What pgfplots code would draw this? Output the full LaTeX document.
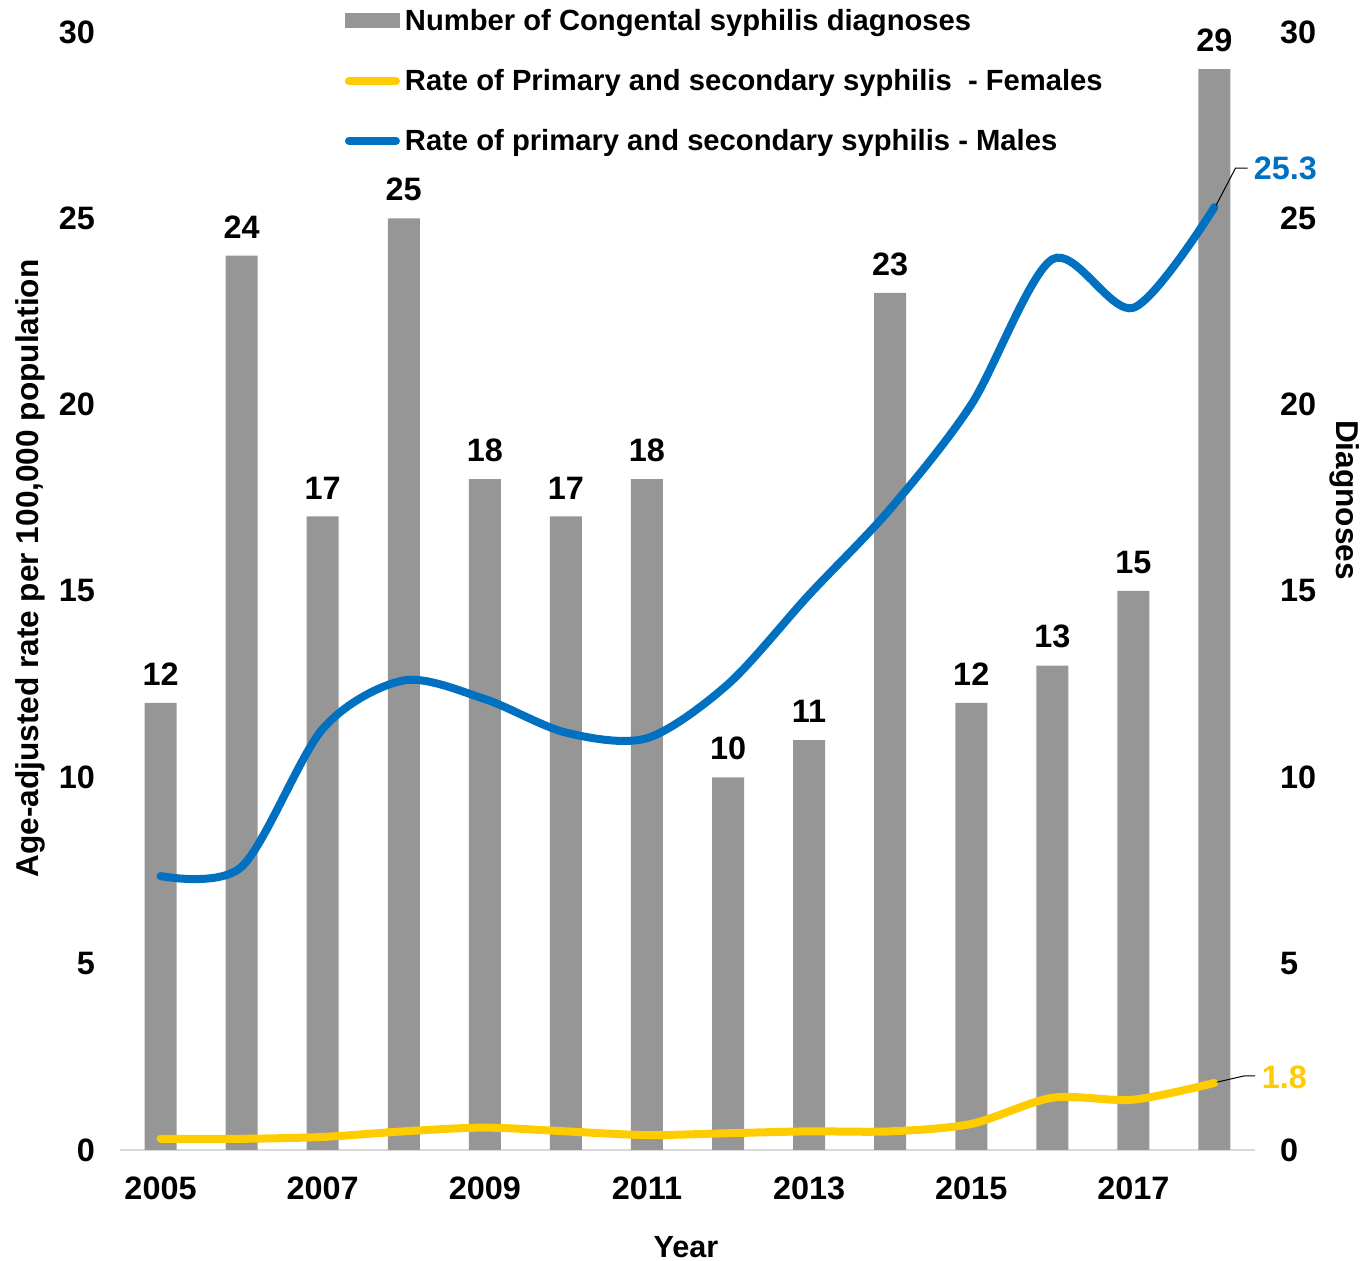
\documentclass[border=0pt]{standalone}
\usepackage{pgfplots}
\pgfplotsset{compat=1.18}
\usepackage{fontspec}
\setmainfont{Liberation Sans}
\definecolor{barg}{HTML}{969696}
\definecolor{axg}{HTML}{D9D9D9}
\definecolor{mblue}{HTML}{0070C0}
\definecolor{fyel}{HTML}{FFCC00}

\pgfplotstableread{
year diag female male
2005 12 0.30 7.35
2006 24 0.30 7.60
2007 17 0.35 11.30
2008 25 0.50 12.60
2009 18 0.60 12.10
2010 17 0.50 11.20
2011 18 0.40 11.05
2012 10 0.45 12.50
2013 11 0.50 14.90
2014 23 0.50 17.20
2015 12 0.70 20.00
2016 13 1.40 23.90
2017 15 1.35 22.60
2018 29 1.80 25.30
}\datatab

\newcommand{\tfont}{\fontsize{16.2}{19}\selectfont\bfseries}
\newcommand{\lfont}{\fontsize{14.6}{17}\selectfont\bfseries}
\newcommand{\afont}{\fontsize{15.8}{18}\selectfont\bfseries}

\begin{document}
\begin{tikzpicture}
\useasboundingbox (0,0) rectangle (680pt,630.5pt);
\begin{axis}[at={(60pt,55.5pt)}, anchor=south west, scale only axis,
  width=567.5pt, height=559pt,
  xmin=2004.5, xmax=2018.5, ymin=0, ymax=30, clip=false,
  axis x line*=bottom, axis y line*=left,
  x axis line style={draw=axg, line width=1pt, -},
  y axis line style={draw=none},
  xtick={2005,2007,...,2017}, ytick={0,5,...,30}, major tick length=0pt,
  /pgf/number format/assume math mode=true, /pgf/number format/1000 sep={},
  ticklabel style={font=\tfont},
  yticklabel style={xshift=-9pt}, xticklabel style={yshift=-10pt},
  legend style={draw=none, fill=none, at={(rel axis cs:0.1982,1.0211)},
    anchor=north west, inner sep=0pt, outer sep=0pt, row sep=16pt, column sep=2.5pt,
    font=\lfont, nodes={inner sep=0pt, text height=11pt, text depth=3pt}},
  legend cell align=left]
\addplot[ybar, bar width=16pt, fill=barg, draw=none,
  nodes near coords, every node near coord/.append style={font=\tfont, black, anchor=south, inner sep=0pt, yshift=8.5pt},
  legend image code/.code={\fill[barg] (0pt,-3pt) rectangle (27.5pt,4.5pt);}]
  table[x=year, y=diag] {\datatab};
\addlegendentry{Number of Congental syphilis diagnoses}
\addplot[smooth, tension=0.5, line width=4pt, line cap=round, color=fyel,
  legend image code/.code={\draw[line width=4pt, line cap=round] (2pt,0.7pt) -- (25.5pt,0.7pt);}]
  table[x=year, y=female] {\datatab};
\addlegendentry{Rate of Primary and secondary syphilis\ \ - Females}
\addplot[smooth, tension=0.5, line width=4pt, line cap=round, color=mblue,
  legend image code/.code={\draw[line width=4pt, line cap=round] (2pt,0.7pt) -- (25.5pt,0.7pt);}]
  table[x=year, y=male] {\datatab};
\addlegendentry{Rate of primary and secondary syphilis - Males}
% annotations
\draw[black, line width=0.5pt] (axis cs:2018.02,25.35) -- (axis cs:2018.26,26.35) -- (axis cs:2018.41,26.35);
\node[font=\tfont, text=mblue, anchor=west, inner sep=0pt] at (axis cs:2018.48,26.35) {25.3};
\draw[black, line width=0.5pt] (axis cs:2018.03,1.82) -- (axis cs:2018.37,1.99) -- (axis cs:2018.5,1.99);
\node[font=\tfont, text=fyel, anchor=west, inner sep=0pt] at (axis cs:2018.58,1.95) {1.8};
% axis titles
\node[font=\afont, rotate=90] at (axis cs:2003.4,15.6) {Age-adjusted rate per 100,000 population};
\node[font=\fontsize{15.3}{18}\selectfont\bfseries] at (axis cs:2011.48,-2.6) {Year};
\node[font=\afont, rotate=-90] at (axis cs:2019.6,17.44) {Diagnoses};
\end{axis}
\begin{axis}[at={(60pt,55.5pt)}, anchor=south west, scale only axis,
  width=567.5pt, height=559pt,
  xmin=2004.5, xmax=2018.5, ymin=0, ymax=30,
  axis x line=none, axis y line*=right, y axis line style={draw=none},
  ytick={0,5,...,30}, major tick length=0pt,
  /pgf/number format/assume math mode=true,
  ticklabel style={font=\tfont}, yticklabel style={xshift=9pt}]
\addplot[draw=none] coordinates {(2005,0)};
\end{axis}
\end{tikzpicture}
\end{document}
